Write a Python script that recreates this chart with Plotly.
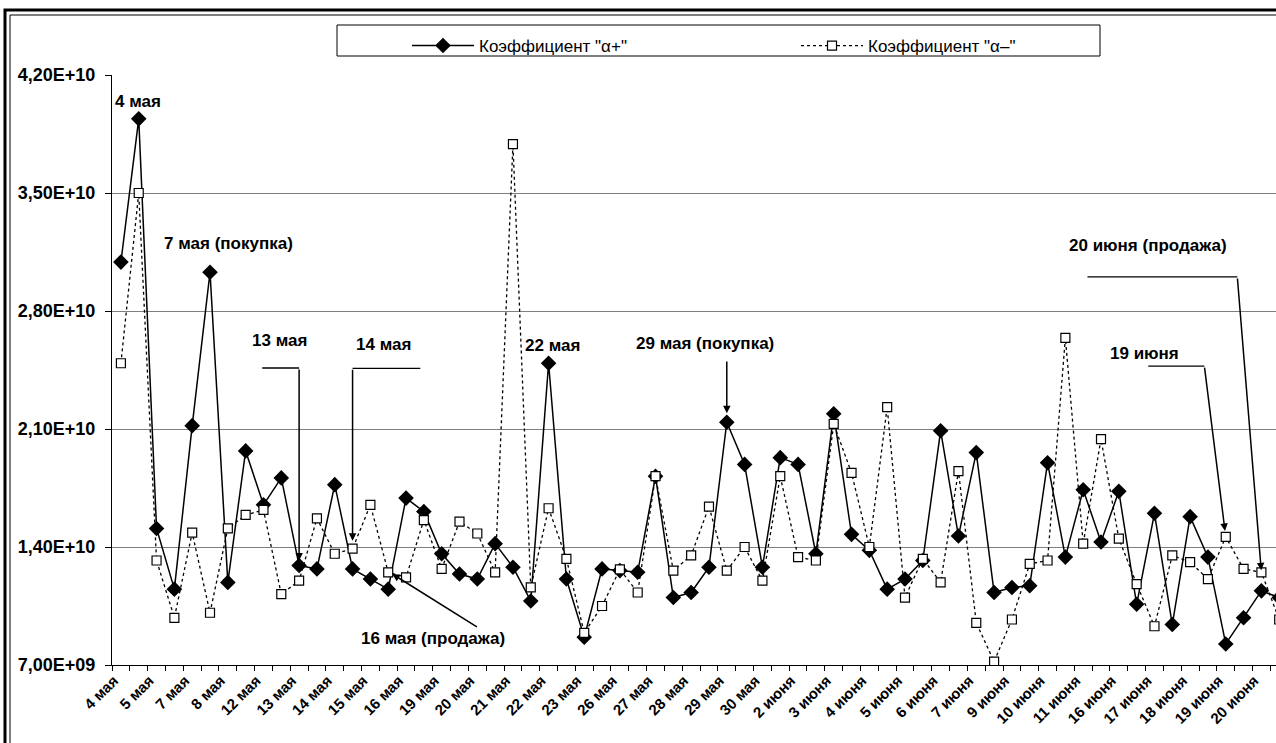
import plotly.graph_objects as go

# Trading dates: two observations per date, one label per date
dates = ["4 мая", "5 мая", "7 мая", "8 мая", "12 мая", "13 мая", "14 мая", "15 мая",
         "16 мая", "19 мая", "20 мая", "21 мая", "22 мая", "23 мая", "26 мая", "27 мая",
         "28 мая", "29 мая", "30 мая", "2 июня", "3 июня", "4 июня", "5 июня", "6 июня",
         "7 июня", "9 июня", "10 июня", "11 июня", "16 июня", "17 июня", "18 июня",
         "19 июня", "20 июня"]

# Coefficient values, in billions
alpha_plus = [30.9, 39.4, 15.1, 11.5, 21.2, 30.3, 11.9, 19.7, 16.5, 18.1,
              12.9, 12.7, 17.7, 12.7, 12.1, 11.5, 16.9, 16.1, 13.6, 12.4,
              12.1, 14.2, 12.8, 10.8, 24.9, 12.1, 8.65, 12.7, 12.6, 12.5,
              18.2, 11.0, 11.3, 12.8, 21.4, 18.9, 12.8, 19.3, 18.9, 13.6,
              21.9, 14.75, 13.8, 11.5, 12.1, 13.2, 20.9, 14.65, 19.6, 11.3,
              11.6, 11.7, 19.0, 13.4, 17.4, 14.3, 17.3, 10.6, 16.0, 9.4,
              15.8, 13.4, 8.25, 9.8, 11.4, 11.0]
alpha_minus = [24.9, 35.0, 13.2, 9.8, 14.85, 10.1, 15.1, 15.9, 16.2, 11.2,
               12.0, 15.7, 13.6, 13.9, 16.5, 12.5, 12.2, 15.6, 12.7, 15.5,
               14.8, 12.5, 37.9, 11.6, 16.3, 13.3, 8.9, 10.5, 12.67, 11.3,
               18.2, 12.6, 13.5, 16.4, 12.6, 14.0, 12.0, 18.2, 13.4, 13.2,
               21.3, 18.4, 14.0, 22.3, 11.0, 13.3, 11.9, 18.5, 9.5, 7.2,
               9.7, 13.0, 13.2, 26.4, 14.2, 20.4, 14.5, 11.8, 9.3, 13.5,
               13.1, 12.1, 14.6, 12.7, 12.5, 9.7]

y_ticks = [7e9, 1.4e10, 2.1e10, 2.8e10, 3.5e10, 4.2e10]
y_tick_text = ["7,00E+09", "1,40E+10", "2,10E+10", "2,80E+10", "3,50E+10", "4,20E+10"]

B = 1e9
xs = list(range(len(alpha_plus)))
# rotated date labels sit with their ends just left of each date's first point
label_pos = [2 * k - 0.4 for k in range(len(dates))]

FONT = "Liberation Sans, Arial, sans-serif"

fig = go.Figure()
fig.add_trace(go.Scatter(
    x=xs, y=[v * B for v in alpha_plus], mode="lines+markers",
    name='Коэффициент "α+"',
    line=dict(color="black", width=1.5),
    marker=dict(symbol="diamond", size=12, color="black", line=dict(width=0)),
))
fig.add_trace(go.Scatter(
    x=xs, y=[v * B for v in alpha_minus], mode="lines+markers",
    name='Коэффициент "α–"',
    line=dict(color="black", width=1.3, dash="3px,3px"),
    marker=dict(symbol="square", size=9, color="white", line=dict(color="black", width=1.2)),
))

# plot-area geometry (pixels) used for decorations placed in paper coordinates
L, T, W, H = 112, 75, 1164, 590


def fx(px):
    return (px - L) / W


def fy(py):
    return (T + H - py) / H


shapes = [
    # double outer frame
    dict(type="rect", xref="paper", yref="paper", x0=fx(5), x1=fx(1320),
         y0=fy(800), y1=fy(10), line=dict(color="black", width=3)),
    dict(type="rect", xref="paper", yref="paper", x0=fx(10), x1=fx(1320),
         y0=fy(800), y1=fy(15), line=dict(color="black", width=1)),
    # legend frame
    dict(type="rect", xref="paper", yref="paper", x0=fx(337), x1=fx(1100),
         y0=fy(56), y1=fy(25), line=dict(color="black", width=1), fillcolor="white",
         layer="below"),
]

# leader lines for callouts (data coordinates)
leaders = [(7.93, 10, 24.62), (13, 16.8, 24.6), (57.65, 60.8, 24.73), (54.24, 62.65, 30.02)]
for x0, x1, yv in leaders:
    shapes.append(dict(type="line", xref="x", yref="y", x0=x0, x1=x1,
                       y0=yv * B, y1=yv * B, line=dict(color="black", width=1.3)))

annotations = []


def label(text, x, y):
    annotations.append(dict(x=x, y=y * B, xref="x", yref="y", text="<b>%s</b>" % text,
                            showarrow=False, font=dict(family=FONT, size=17, color="black")))


def arrow(x_tip, y_tip, x_tail, y_tail, standoff=0):
    annotations.append(dict(x=x_tip, y=y_tip, xref="x", yref="y", ax=x_tail, ay=y_tail * B,
                            axref="x", ayref="y", text="", showarrow=True, arrowhead=2,
                            arrowsize=1, arrowwidth=1.5, arrowcolor="black", standoff=standoff))


label("4 мая", 0.98, 40.4)
label("7 мая (покупка)", 6.04, 32.0)
label("13 мая", 8.89, 26.25)
label("14 мая", 14.73, 26.0)
label("22 мая", 24.21, 25.95)
label("29 мая (покупка)", 32.8, 26.1)
label("19 июня", 57.43, 25.45)
label("20 июня (продажа)", 57.66, 31.9)
label("16 мая (продажа)", 17.54, 8.6)

arrow(10, alpha_plus[10] * B, 10, 24.62, standoff=5)
arrow(13, alpha_minus[13] * B, 13, 24.6, standoff=8)
arrow(15.23, 12.4 * B, 20.06, 9.2)
arrow(34, alpha_plus[34] * B, 34, 25.1, standoff=9)
arrow(62, alpha_minus[62] * B, 60.8, 24.73, standoff=6)
arrow(64, alpha_minus[64] * B, 62.65, 30.02, standoff=2)

fig.update_layout(
    width=1276, height=743,
    margin=dict(l=L, r=1276 - L - W, t=T, b=743 - T - H),
    paper_bgcolor="white", plot_bgcolor="white",
    font=dict(family=FONT, color="black"),
    shapes=shapes, annotations=annotations,
    showlegend=True,
    legend=dict(orientation="h", x=fx(407), y=fy(28), xanchor="left", yanchor="top",
                bgcolor="rgba(0,0,0,0)", borderwidth=0, itemwidth=62, entrywidth=312,
                font=dict(family=FONT, size=17, color="black"), itemclick=False,
                itemdoubleclick=False),
    xaxis=dict(
        range=[-0.5, -0.5 + W / 17.82], showgrid=False, zeroline=False,
        showline=True, linecolor="black", linewidth=1,
        tickmode="array", tickvals=label_pos, ticktext=dates, ticks="",
        tickangle=-45, tickfont=dict(family=FONT, size=15, color="black", weight="bold"),
        minor=dict(tickmode="linear", tick0=-0.5, dtick=1, ticks="outside", ticklen=5,
                   tickcolor="black", showgrid=False),
    ),
    yaxis=dict(
        range=[7e9, 4.2e10], tickmode="array", tickvals=y_ticks, ticktext=y_tick_text,
        showgrid=True, gridcolor="#7f7f7f", gridwidth=1, zeroline=False,
        showline=True, linecolor="black", linewidth=1,
        ticks="outside", ticklen=6, tickcolor="black", ticklabelstandoff=6,
        tickfont=dict(family=FONT, size=18, color="black", weight="bold"),
    ),
)

fig.write_html("out.html")
